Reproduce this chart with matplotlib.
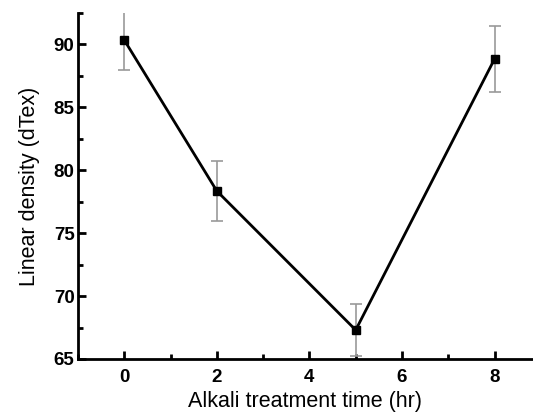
import matplotlib
matplotlib.use("Agg")
import matplotlib.pyplot as plt
from matplotlib.ticker import MultipleLocator

time_hr = [0, 2, 5, 8]
density = [90.35, 78.35, 67.3, 88.85]
errors = [2.4, 2.35, 2.1, 2.65]

plt.rcParams['font.family'] = ['Liberation Sans', 'DejaVu Sans']

fig = plt.figure(figsize=(5.33, 4.15), dpi=100)
ax = fig.add_axes([0.1463, 0.135, 0.8537, 0.8337])

ax.errorbar(time_hr, density, yerr=errors, fmt='none', ecolor='#999999',
            elinewidth=1.2, capsize=4, capthick=1.2, zorder=2)
ax.plot(time_hr, density, color='black', linewidth=2, marker='s',
        markersize=6, zorder=3)

ax.set_xlim(-1, 8.83)
ax.set_ylim(65, 92.5)
ax.xaxis.set_major_locator(MultipleLocator(2))
ax.xaxis.set_minor_locator(MultipleLocator(1))
ax.yaxis.set_major_locator(MultipleLocator(5))
ax.yaxis.set_minor_locator(MultipleLocator(2.5))

for s in ['top', 'right']:
    ax.spines[s].set_visible(False)
for s in ['left', 'bottom']:
    ax.spines[s].set_linewidth(2)

ax.tick_params(which='major', direction='in', length=6, width=2, labelsize=13.5)
ax.tick_params(axis='x', which='major', pad=7)
ax.tick_params(axis='y', which='major', pad=2.5)
ax.tick_params(which='minor', direction='in', length=3.5, width=2)
for lab in ax.get_xticklabels() + ax.get_yticklabels():
    lab.set_fontweight('bold')

ax.set_xlabel('Alkali treatment time (hr)', fontsize=15.5, labelpad=4)
ax.set_ylabel('Linear density (dTex)', fontsize=15.5, labelpad=10)

fig.savefig('out.png', dpi=100)
